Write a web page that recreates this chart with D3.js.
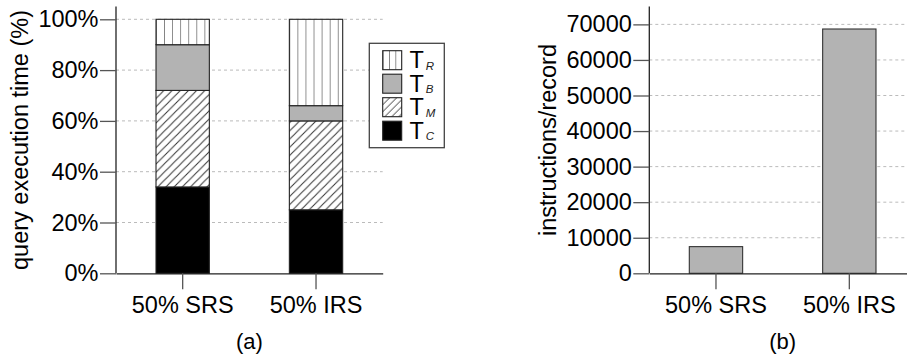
<!DOCTYPE html>
<html><head><meta charset="utf-8">
<script src="https://d3js.org/d3.v7.min.js"></script>
<style>
body{margin:0;background:#fff;}
text{font-family:"Liberation Sans",Arial,sans-serif;fill:#000;}
</style></head>
<body><svg id="c" width="907" height="355"></svg>
<script>
// ---- data ----
const categories = ["50% SRS", "50% IRS"];
const seriesNames = ["T_C", "T_M", "T_B", "T_R"];
const valuesTC = [34, 25];
const valuesTM = [38, 35];
const valuesTB = [18, 6];
const valuesTR = [10, 34];
const pctTicks = [0, 20, 40, 60, 80, 100];
const instrValues = [7500, 68700];
const instrTicks = [0, 10000, 20000, 30000, 40000, 50000, 60000, 70000];
const legendOrder = [["T", "R"], ["T", "B"], ["T", "M"], ["T", "C"]];
const panelLabels = ["(a)", "(b)"];

const svg = d3.select("#c");
const defs = svg.append("defs");
const FS = 23.5;
const lineCol = "#222";

function vPattern(id, step, tx, ty) {
  const p = defs.append("pattern").attr("id", id).attr("patternUnits", "userSpaceOnUse")
    .attr("width", step).attr("height", 10).attr("patternTransform", `translate(${tx},${ty})`);
  p.append("rect").attr("width", step).attr("height", 10).attr("fill", "#fff");
  p.append("line").attr("x1", 0).attr("x2", 0).attr("y1", 0).attr("y2", 10)
    .attr("stroke", "#333").attr("stroke-width", 1.1);
}
function dPattern(id, step, tx, ty) {
  const p = defs.append("pattern").attr("id", id).attr("patternUnits", "userSpaceOnUse")
    .attr("width", step).attr("height", step).attr("patternTransform", `translate(${tx},${ty})`);
  p.append("rect").attr("width", step).attr("height", step).attr("fill", "#fff");
  p.append("path").attr("d", `M0,${step} L${step},0 M${-step/2},${step/2} L${step/2},${-step/2} M${step/2},${step*1.5} L${step*1.5},${step/2}`)
    .attr("stroke", "#333").attr("stroke-width", 1);
}

// ---------- Panel (a) ----------
const ax0 = 116, ax1 = 382.7, yTop = 6.6, yBot = 273.3;
const xa = d3.scaleBand().domain(categories).range([ax0, ax1]).paddingInner(0.6).paddingOuter(0.3);
const ya = d3.scaleLinear().domain([0, 105]).range([yBot, yTop]);

const ga = svg.append("g");
// grid
ga.selectAll("line.grid").data(pctTicks.filter(d => d > 0)).enter().append("line")
  .attr("x1", ax0).attr("x2", ax1).attr("y1", d => ya(d)).attr("y2", d => ya(d))
  .attr("stroke", "#bbb").attr("stroke-width", 1).attr("stroke-dasharray", "3,3");

const stackData = categories.map((c, i) => ({cat: c, T_C: valuesTC[i], T_M: valuesTM[i], T_B: valuesTB[i], T_R: valuesTR[i]}));
const stacked = d3.stack().keys(seriesNames)(stackData);

categories.forEach((c, i) => {
  vPattern("vr" + i, 8.07, xa(c), 0);
  dPattern("dm" + i, 8.2, xa(c), 0);
});
function fillFor(key, i) {
  if (key === "T_C") return "#000";
  if (key === "T_B") return "#b3b3b3";
  if (key === "T_M") return `url(#dm${i})`;
  return `url(#vr${i})`;
}
stacked.forEach(layer => {
  layer.forEach((d, i) => {
    ga.append("rect")
      .attr("x", xa(d.data.cat)).attr("width", xa.bandwidth())
      .attr("y", ya(d[1])).attr("height", ya(d[0]) - ya(d[1]))
      .attr("fill", fillFor(layer.key, i))
      .attr("stroke", lineCol).attr("stroke-width", 1.1);
  });
});

// axes
const yAxisA = d3.axisLeft(ya).tickValues(pctTicks).tickFormat(d => d + "%").tickSize(16).tickPadding(1.5).tickSizeOuter(0);
const gya = ga.append("g").attr("transform", `translate(${ax0},0)`).call(yAxisA);
const xAxisA = d3.axisBottom(xa).tickSize(16).tickPadding(7).tickSizeOuter(0);
const gxa = ga.append("g").attr("transform", `translate(0,${yBot})`).call(xAxisA);

// ---------- Panel (b) ----------
const bx0 = 649.3, bx1 = 916;
const xb = d3.scaleBand().domain(categories).range([bx0, bx1]).paddingInner(0.6).paddingOuter(0.3);
const yb = d3.scaleLinear().domain([0, 75000]).range([yBot, yTop]);
const gb = svg.append("g");
gb.selectAll("line.grid").data(instrTicks.filter(d => d > 0)).enter().append("line")
  .attr("x1", bx0).attr("x2", bx1).attr("y1", d => yb(d)).attr("y2", d => yb(d))
  .attr("stroke", "#bbb").attr("stroke-width", 1).attr("stroke-dasharray", "3,3");
gb.selectAll("rect.bar").data(instrValues).enter().append("rect")
  .attr("x", (d, i) => xb(categories[i])).attr("width", xb.bandwidth())
  .attr("y", d => yb(d)).attr("height", d => yBot - yb(d))
  .attr("fill", "#b3b3b3").attr("stroke", "#333").attr("stroke-width", 1.1);
const gyb = gb.append("g").attr("transform", `translate(${bx0},0)`)
  .call(d3.axisLeft(yb).tickValues(instrTicks).tickFormat(d3.format("d")).tickSize(16).tickPadding(1.5).tickSizeOuter(0));
const gxb = gb.append("g").attr("transform", `translate(0,${yBot})`)
  .call(d3.axisBottom(xb).tickSize(16).tickPadding(7).tickSizeOuter(0));

// axis styling
[gya, gxa, gyb, gxb].forEach(g => {
  g.select(".domain").attr("stroke", lineCol).attr("stroke-width", 1.3);
  g.selectAll(".tick line").attr("stroke", "#555").attr("stroke-width", 1.3);
  g.selectAll(".tick text").attr("font-size", FS).attr("font-family", "Liberation Sans, Arial, sans-serif").attr("fill", "#000");
});
// extend y axis domain to top
gya.select(".domain").attr("d", `M0,${yTop}V${yBot}`);
gyb.select(".domain").attr("d", `M0,${yTop}V${yBot}`);

// axis titles
svg.append("text").attr("transform", `translate(28,140) rotate(-90)`).attr("text-anchor", "middle")
  .attr("font-size", FS).text("query execution time (%)");
svg.append("text").attr("transform", `translate(556,140) rotate(-90)`).attr("text-anchor", "middle")
  .attr("font-size", FS).text("instructions/record");

// panel labels
svg.append("text").attr("x", (ax0 + ax1) / 2).attr("y", 349).attr("text-anchor", "middle").attr("font-size", 22).text(panelLabels[0]);
svg.append("text").attr("x", (bx0 + bx1) / 2).attr("y", 349).attr("text-anchor", "middle").attr("font-size", 22).text(panelLabels[1]);

// legend
const lg = svg.append("g");
lg.append("rect").attr("x", 369.3).attr("y", 43.3).attr("width", 75).attr("height", 104.4)
  .attr("fill", "#fff").attr("stroke", "#444").attr("stroke-width", 1.3);
const swX = 382.7, swY0 = 50.7, swStep = 23.5, sw = 19;
vPattern("lvr", 6.33, swX, 0);
dPattern("ldm", 7, swX, swY0 + 2 * swStep);
const legendFill = ["url(#lvr)", "#b3b3b3", "url(#ldm)", "#000"];
legendOrder.forEach((lab, i) => {
  const y = swY0 + i * swStep;
  lg.append("rect").attr("x", swX).attr("y", y).attr("width", sw).attr("height", sw)
    .attr("fill", legendFill[i]).attr("stroke", lineCol).attr("stroke-width", 1.1);
  const t = lg.append("text").attr("x", 409.5).attr("y", y + sw - 1.5).attr("font-size", FS);
  t.append("tspan").text(lab[0]);
  t.append("tspan").attr("font-size", 11.5).attr("font-style", "italic").attr("dx", 2).attr("dy", 1.5).attr("fill", "#222").text(lab[1]);
});
</script></body></html>
